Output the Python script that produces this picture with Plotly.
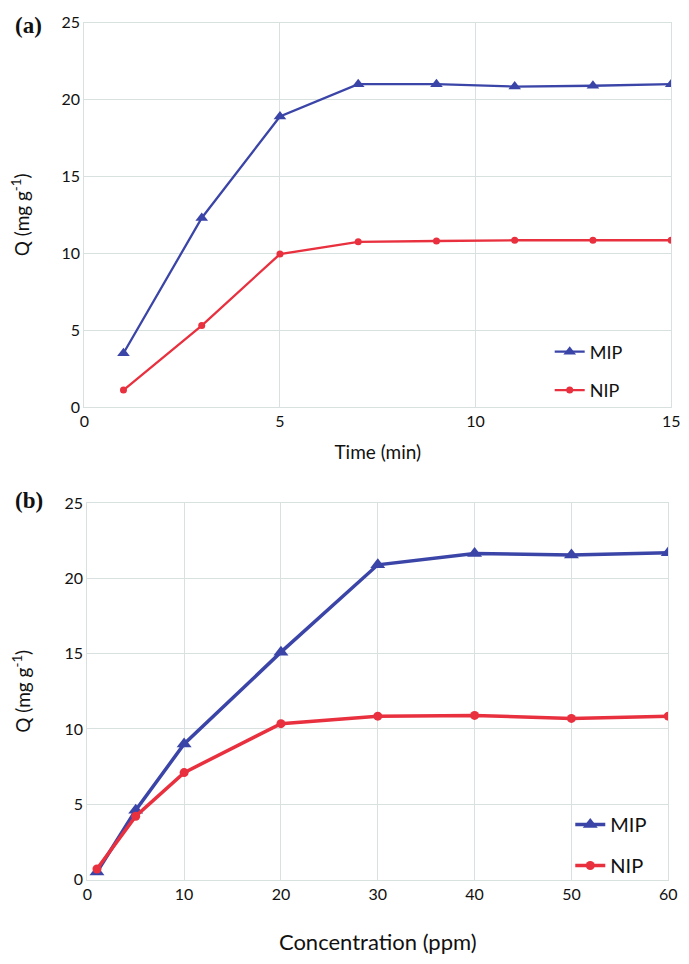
import plotly.graph_objects as go

# Panel (a): time
time_min = [1, 3, 5, 7, 9, 11, 13, 15]
mip_time = [3.5, 12.3, 18.9, 21.0, 21.0, 20.85, 20.9, 21.0]
nip_time = [1.1, 5.3, 9.95, 10.75, 10.8, 10.85, 10.85, 10.85]

# Panel (b): concentration
conc_ppm = [1, 5, 10, 20, 30, 40, 50, 60]
mip_conc = [0.5, 4.6, 9.0, 15.1, 20.9, 21.65, 21.55, 21.7]
nip_conc = [0.7, 4.2, 7.1, 10.35, 10.85, 10.9, 10.7, 10.85]

BLUE = "#3b45a8"
RED = "#e8303e"
GRID = "#d8e0e0"
FONT = "Lato"

W, H = 689, 964

def px_x(p):
    return p / W

def px_y(p):
    return 1 - p / H

fig = go.Figure()

fig.add_trace(go.Scatter(x=time_min, y=mip_time, name="MIP", mode="lines+markers",
                         line=dict(color=BLUE, width=2.3),
                         marker=dict(symbol="triangle-up", size=11, color=BLUE),
                         xaxis="x", yaxis="y", legend="legend", legendgroup="a1"))
fig.add_trace(go.Scatter(x=time_min, y=nip_time, name="NIP", mode="lines+markers",
                         line=dict(color=RED, width=2.3),
                         marker=dict(symbol="circle", size=7, color=RED),
                         xaxis="x", yaxis="y", legend="legend", legendgroup="a2"))
fig.add_trace(go.Scatter(x=conc_ppm, y=mip_conc, name="MIP", mode="lines+markers",
                         line=dict(color=BLUE, width=3.5),
                         marker=dict(symbol="triangle-up", size=13, color=BLUE),
                         xaxis="x2", yaxis="y2", legend="legend2", legendgroup="b1"))
fig.add_trace(go.Scatter(x=conc_ppm, y=nip_conc, name="NIP", mode="lines+markers",
                         line=dict(color=RED, width=3.5),
                         marker=dict(symbol="circle", size=9, color=RED),
                         xaxis="x2", yaxis="y2", legend="legend2", legendgroup="b2"))

axis_common = dict(showgrid=True, gridcolor=GRID, gridwidth=1, zeroline=False,
                   showline=True, linecolor=GRID, linewidth=1, mirror=True,
                   ticks="", tickfont=dict(family=FONT, size=16, color="#111"))

fig.update_layout(
    width=W, height=H,
    margin=dict(l=0, r=0, t=0, b=0),
    paper_bgcolor="white", plot_bgcolor="white",
    font=dict(family=FONT, color="#111"),
    xaxis=dict(domain=[px_x(81), px_x(680)], range=[0, 15], dtick=5, anchor="y",
               title=dict(text="Time (min)", font=dict(family=FONT, size=19), standoff=16),
               **axis_common),
    yaxis=dict(domain=[px_y(405), px_y(13)], range=[0, 25], dtick=5, anchor="x",
               title=dict(text="Q (mg g<sup>-1</sup>)", font=dict(family=FONT, size=19), standoff=26),
               **axis_common),
    xaxis2=dict(domain=[px_x(84), px_x(677)], range=[0, 60], dtick=10, anchor="y2",
                title=dict(text="Concentration (ppm)", font=dict(family=FONT, size=22), standoff=32),
                **axis_common),
    yaxis2=dict(domain=[px_y(887), px_y(503)], range=[0, 25], dtick=5, anchor="x2",
                title=dict(text="Q (mg g<sup>-1</sup>)", font=dict(family=FONT, size=19), standoff=28),
                **axis_common),
    legend=dict(x=px_x(556), y=px_y(330), xanchor="left", yanchor="top",
                bgcolor="rgba(0,0,0,0)", font=dict(family=FONT, size=18),
                traceorder="grouped", tracegroupgap=12, itemwidth=30),
    legend2=dict(x=px_x(577), y=px_y(811), xanchor="left", yanchor="top",
                 bgcolor="rgba(0,0,0,0)", font=dict(family=FONT, size=20),
                 traceorder="grouped", tracegroupgap=12, itemwidth=30),
    annotations=[
        dict(text="<b>(a)</b>", x=px_x(8), y=px_y(16), xref="paper", yref="paper",
             xanchor="left", yanchor="middle", showarrow=False,
             font=dict(family="Liberation Serif", size=23, color="#111")),
        dict(text="<b>(b)</b>", x=px_x(8), y=px_y(500), xref="paper", yref="paper",
             xanchor="left", yanchor="middle", showarrow=False,
             font=dict(family="Liberation Serif", size=23, color="#111")),
    ],
)

fig.write_html("out.html")
